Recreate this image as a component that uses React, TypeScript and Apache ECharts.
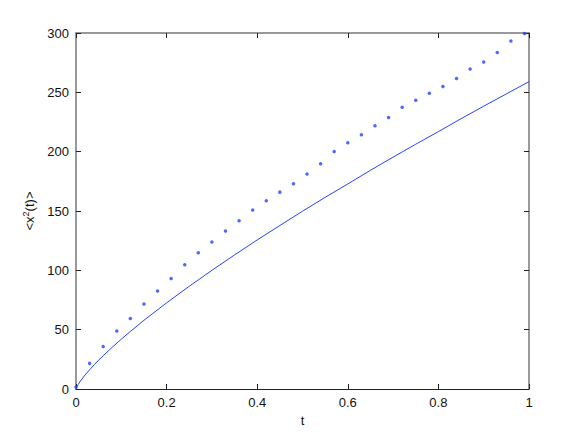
import React, { useEffect, useRef } from "react";
import * as echarts from "echarts";

const dotT = [0, 0.03, 0.06, 0.09, 0.12, 0.15, 0.18, 0.21, 0.24, 0.27, 0.3, 0.33, 0.36, 0.39, 0.42, 0.45, 0.48, 0.51, 0.54, 0.57, 0.6, 0.63, 0.66, 0.69, 0.72, 0.75, 0.78, 0.81, 0.84, 0.87, 0.9, 0.93, 0.96, 0.99];
const dotV = [1.7, 21.6, 35.9, 48.9, 59.5, 71.6, 82.6, 93.2, 104.7, 114.8, 123.8, 133.1, 141.8, 150.8, 158.6, 165.9, 173.0, 181.1, 189.8, 200.2, 207.5, 214.2, 221.8, 228.8, 237.5, 243.4, 249.3, 255.0, 261.7, 269.6, 275.5, 283.6, 293.2, 299.6];

const lineT = [0, 0.002, 0.005, 0.01, 0.02, 0.03, 0.04, 0.05, 0.06, 0.08, 0.1, 0.12, 0.15, 0.2, 0.25, 0.3, 0.35, 0.4, 0.45, 0.5, 0.55, 0.6, 0.65, 0.7, 0.75, 0.8, 0.85, 0.9, 0.95, 1];
const lineV = [0, 1.9, 3.9, 6.8, 11.8, 16.2, 20.4, 24.3, 28.0, 35.2, 42.0, 48.5, 57.9, 72.6, 86.6, 100.0, 113.0, 125.6, 137.8, 149.8, 161.5, 172.8, 184.3, 195.4, 206.3, 216.9, 227.8, 238.3, 248.7, 259.0];

const xTicks = [0, 0.2, 0.4, 0.6, 0.8, 1];
const yTicks = [0, 50, 100, 150, 200, 250, 300];

const FONT = "'Liberation Sans', Arial, Helvetica, sans-serif";
const BLUE = "#2244ff";

export default function App() {
  const ref = useRef<HTMLDivElement>(null);
  useEffect(() => {
    if (!ref.current) return;
    const chart = echarts.init(ref.current, undefined, { renderer: "svg" });
    const xMin = xTicks[0];
    const xMax = xTicks[xTicks.length - 1];
    const xInt = xTicks[1] - xTicks[0];
    const yMin = yTicks[0];
    const yMax = yTicks[yTicks.length - 1];
    const yInt = yTicks[1] - yTicks[0];
    const tick = { show: true, inside: true, length: 5, lineStyle: { color: "#222", width: 1 } };
    chart.setOption({
      animation: false,
      backgroundColor: "#fff",
      textStyle: { fontFamily: FONT },
      grid: { left: 76, right: 55, top: 33, bottom: 50, containLabel: false },
      xAxis: [
        {
          type: "value",
          min: xMin,
          max: xMax,
          interval: xInt,
          position: "bottom",
          name: "t",
          nameLocation: "middle",
          nameGap: 21,
          nameTextStyle: { fontSize: 13, color: "#111", fontFamily: FONT },
          axisLine: { show: true, lineStyle: { color: "#222", width: 1 } },
          axisTick: tick,
          splitLine: { show: false },
          axisLabel: {
            fontSize: 13,
            color: "#111",
            margin: 7,
            fontFamily: FONT,
            formatter: (v: number) => String(parseFloat(v.toFixed(2))),
          },
        },
        {
          type: "value",
          min: xMin,
          max: xMax,
          interval: xInt,
          position: "top",
          axisLine: { show: true, onZero: false, lineStyle: { color: "#777", width: 1.5 } },
          axisTick: tick,
          splitLine: { show: false },
          axisLabel: { show: false },
        },
      ],
      yAxis: [
        {
          type: "value",
          min: yMin,
          max: yMax,
          interval: yInt,
          position: "left",
          name: "<x{sup|2}(t)>",
          nameLocation: "middle",
          nameGap: 33,
          nameRotate: 90,
          nameTextStyle: {
            fontSize: 13,
            color: "#111",
            fontFamily: FONT,
            rich: {
              sup: { fontSize: 9, color: "#111", fontFamily: FONT, verticalAlign: "bottom", padding: [0, 0, 7, 0] },
            },
          },
          axisLine: { show: true, onZero: false, lineStyle: { color: "#777", width: 1.5 } },
          axisTick: tick,
          splitLine: { show: false },
          axisLabel: { fontSize: 13, color: "#111", margin: 7, fontFamily: FONT },
        },
        {
          type: "value",
          min: yMin,
          max: yMax,
          interval: yInt,
          position: "right",
          axisLine: { show: true, onZero: false, lineStyle: { color: "#777", width: 1.5 } },
          axisTick: tick,
          splitLine: { show: false },
          axisLabel: { show: false },
        },
      ],
      series: [
        {
          type: "line",
          data: lineT.map((t, i) => [t, lineV[i]]),
          smooth: false,
          showSymbol: false,
          lineStyle: { color: BLUE, width: 1 },
          itemStyle: { color: BLUE },
        },
        {
          type: "scatter",
          data: dotT.map((t, i) => [t, dotV[i]]),
          symbol: "circle",
          symbolSize: 3.5,
          clip: false,
          itemStyle: { color: BLUE },
        },
      ],
    });
    return () => chart.dispose();
  }, []);
  return (
    <div
      ref={ref}
      style={{ position: "absolute", left: 0, top: 0, width: 584, height: 439, background: "#fff" }}
    />
  );
}
